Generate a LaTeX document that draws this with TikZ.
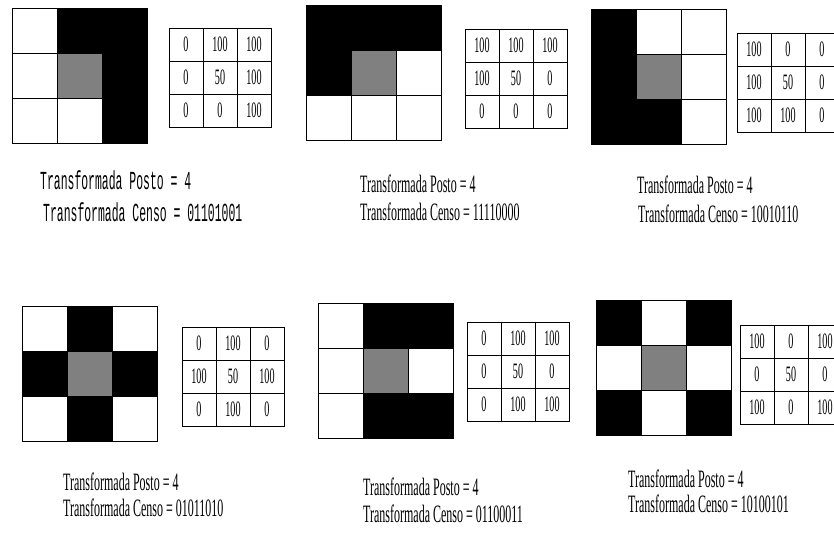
\documentclass[tikz,border=0pt]{standalone}
\usepackage{fontspec}
\newfontfamily\condserif[FakeStretch=0.48]{Liberation Serif}
\newfontfamily\valserif[FakeStretch=0.46]{Liberation Serif}
\newfontfamily\condmono[FakeStretch=0.44]{Liberation Mono}

\begin{document}
\begin{tikzpicture}[
    x=1pt, y=-1pt,
    pix/.style={draw, line width=0.8pt, minimum size=45pt, inner sep=0pt, outer sep=0pt},
    pixw/.style={pix, fill=white},
    pixb/.style={pix, fill=black},
    pixg/.style={pix, fill=gray},
    val/.style={draw, line width=0.8pt, minimum width=34pt, minimum height=33pt, inner sep=0pt, outer sep=0pt, font=\valserif\fontsize{22}{22}\selectfont},
    caption/.style={anchor=base west, inner sep=0pt, font=\condserif\fontsize{25}{25}\selectfont},
    monocaption/.style={caption, font=\condmono\fontsize{26}{26}\selectfont},
]

\useasboundingbox (0,0) rectangle (834,532);

% Panel 1
\foreach \c [count=\i from 0] in {w,b,b,w,g,b,w,w,b} {
  \pgfmathtruncatemacro\col{mod(\i,3)}
  \pgfmathtruncatemacro\row{div(\i,3)}
  \node[pix\c] (p1c\i) at (12+22.5+\col*45, 8+22.5+\row*45) {};
}
\foreach \v [count=\i from 0] in {0,100,100,0,50,100,0,0,100} {
  \pgfmathtruncatemacro\col{mod(\i,3)}
  \pgfmathtruncatemacro\row{div(\i,3)}
  \node[val] (t1c\i) at (169+17+\col*34, 28+16.5+\row*33) {\v};
}
\node[monocaption] (p1posto) at (40,189) {Transformada Posto = 4};
\node[monocaption] (p1censo) at (43,221) {Transformada Censo = 01101001};

% Panel 2
\foreach \c [count=\i from 0] in {b,b,b,b,g,w,w,w,w} {
  \pgfmathtruncatemacro\col{mod(\i,3)}
  \pgfmathtruncatemacro\row{div(\i,3)}
  \node[pix\c] (p2c\i) at (306+22.5+\col*45, 5+22.5+\row*45) {};
}
\foreach \v [count=\i from 0] in {100,100,100,100,50,0,0,0,0} {
  \pgfmathtruncatemacro\col{mod(\i,3)}
  \pgfmathtruncatemacro\row{div(\i,3)}
  \node[val] (t2c\i) at (465+17+\col*34, 29+16.5+\row*33) {\v};
}
\node[caption] (p2posto) at (360,192) {Transformada Posto = 4};
\node[caption] (p2censo) at (360,220) {Transformada Censo = 11110000};

% Panel 3
\foreach \c [count=\i from 0] in {b,w,w,b,g,w,b,b,w} {
  \pgfmathtruncatemacro\col{mod(\i,3)}
  \pgfmathtruncatemacro\row{div(\i,3)}
  \node[pix\c] (p3c\i) at (591+22.5+\col*45, 9+22.5+\row*45) {};
}
\foreach \v [count=\i from 0] in {100,0,0,100,50,0,100,100,0} {
  \pgfmathtruncatemacro\col{mod(\i,3)}
  \pgfmathtruncatemacro\row{div(\i,3)}
  \node[val] (t3c\i) at (737+17+\col*34, 33+16.5+\row*33) {\v};
}
\node[caption] (p3posto) at (637,193) {Transformada Posto = 4};
\node[caption] (p3censo) at (638,222) {Transformada Censo = 10010110};

% Panel 4
\foreach \c [count=\i from 0] in {w,b,w,b,g,b,w,b,w} {
  \pgfmathtruncatemacro\col{mod(\i,3)}
  \pgfmathtruncatemacro\row{div(\i,3)}
  \node[pix\c] (p4c\i) at (22+22.5+\col*45, 306+22.5+\row*45) {};
}
\foreach \v [count=\i from 0] in {0,100,0,100,50,100,0,100,0} {
  \pgfmathtruncatemacro\col{mod(\i,3)}
  \pgfmathtruncatemacro\row{div(\i,3)}
  \node[val] (t4c\i) at (182+17+\col*34, 327+16.5+\row*33) {\v};
}
\node[caption] (p4posto) at (63,490) {Transformada Posto = 4};
\node[caption] (p4censo) at (63,516) {Transformada Censo = 01011010};

% Panel 5
\foreach \c [count=\i from 0] in {w,b,b,w,g,w,w,b,b} {
  \pgfmathtruncatemacro\col{mod(\i,3)}
  \pgfmathtruncatemacro\row{div(\i,3)}
  \node[pix\c] (p5c\i) at (318+22.5+\col*45, 303+22.5+\row*45) {};
}
\foreach \v [count=\i from 0] in {0,100,100,0,50,0,0,100,100} {
  \pgfmathtruncatemacro\col{mod(\i,3)}
  \pgfmathtruncatemacro\row{div(\i,3)}
  \node[val] (t5c\i) at (467+17+\col*34, 322+16.5+\row*33) {\v};
}
\node[caption] (p5posto) at (363,495) {Transformada Posto = 4};
\node[caption] (p5censo) at (363,522) {Transformada Censo = 01100011};

% Panel 6
\foreach \c [count=\i from 0] in {b,w,b,w,g,w,b,w,b} {
  \pgfmathtruncatemacro\col{mod(\i,3)}
  \pgfmathtruncatemacro\row{div(\i,3)}
  \node[pix\c] (p6c\i) at (596+22.5+\col*45, 300+22.5+\row*45) {};
}
\foreach \v [count=\i from 0] in {100,0,100,0,50,0,100,0,100} {
  \pgfmathtruncatemacro\col{mod(\i,3)}
  \pgfmathtruncatemacro\row{div(\i,3)}
  \node[val] (t6c\i) at (740+17+\col*34, 325+16.5+\row*33) {\v};
}
\node[caption] (p6posto) at (628,487) {Transformada Posto = 4};
\node[caption] (p6censo) at (628,512) {Transformada Censo = 10100101};

\end{tikzpicture}
\end{document}
